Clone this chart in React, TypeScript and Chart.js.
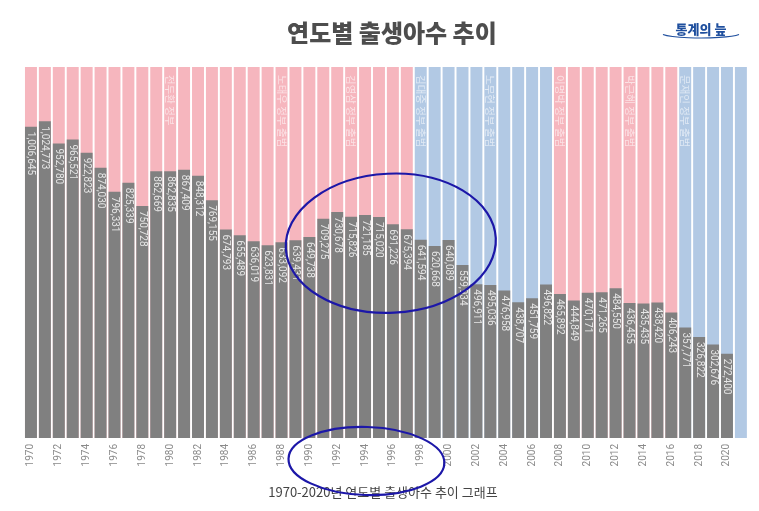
import React, { useEffect, useRef } from "react";
import { Chart, registerables } from "chart.js";

Chart.register(...registerables);

const years: string[] = [
  "1970","1971","1972","1973","1974","1975","1976","1977","1978","1979",
  "1980","1981","1982","1983","1984","1985","1986","1987","1988","1989",
  "1990","1991","1992","1993","1994","1995","1996","1997","1998","1999",
  "2000","2001","2002","2003","2004","2005","2006","2007","2008","2009",
  "2010","2011","2012","2013","2014","2015","2016","2017","2018","2019",
  "2020","2021",
];

const births: (number | null)[] = [
  1006645, 1024773, 952780, 965521, 922823, 874030, 796331, 825339, 750728, 862669,
  862835, 867409, 848312, 769155, 674793, 655489, 636019, 623831, 633092, 639431,
  649738, 709275, 730678, 715826, 721185, 715020, 691226, 675394, 641594, 620668,
  640089, 559934, 496911, 495036, 476958, 438707, 451759, 496822, 465892, 444849,
  470171, 471265, 484550, 436455, 435435, 438420, 406243, 357771, 326822, 302676,
  272400, null,
];

// government camp per year: "c" = conservative (pink), "p" = progressive (blue)
const camps: string[] = [
  "c","c","c","c","c","c","c","c","c","c",
  "c","c","c","c","c","c","c","c","c","c",
  "c","c","c","c","c","c","c","c","p","p",
  "p","p","p","p","p","p","p","p","c","c",
  "c","c","c","c","c","c","c","p","p","p",
  "p","p",
];

const eraYears: string[] = ["1980", "1988", "1993", "1998", "2003", "2008", "2013", "2017"];
const eraLabels: string[] = [
  "전두환 정부",
  "노태우 정부 출범",
  "김영삼 정부 출범",
  "김대중 정부 출범",
  "노무현 정부 출범",
  "이명박 정부 출범",
  "박근혜 정부 출범",
  "문재인 정부 출범",
];

const Y_MAX = 1200000;
const TITLE = "연도별 출생아수 추이";
const CAPTION = "1970-2020년 연도별 출생아수 추이 그래프";

const PINK = "#f6b6be";
const BLUE = "#b2c9e4";
const GREY = "#808080";
const INK = "#1c17a8";

const fmt = (v: number) => v.toLocaleString("en-US");

const overlayPlugin = {
  id: "overlay",
  afterDatasetsDraw(chart: any) {
    const ctx = chart.ctx;
    const x = chart.scales.x;
    const area = chart.chartArea;

    // value labels inside bars (rotated, reading top to bottom)
    const meta = chart.getDatasetMeta(0);
    ctx.save();
    ctx.fillStyle = "#e6e6e6";
    ctx.font = "10px Roboto, sans-serif";
    ctx.textBaseline = "middle";
    ctx.textAlign = "left";
    meta.data.forEach((bar: any, i: number) => {
      const v = births[i];
      if (v == null) return;
      ctx.save();
      ctx.translate(bar.x, bar.y + 5);
      ctx.rotate(Math.PI / 2);
      ctx.fillText(fmt(v), 0, 0);
      ctx.restore();
    });
    ctx.restore();

    // government labels
    ctx.save();
    ctx.fillStyle = "rgba(255,255,255,0.6)";
    ctx.font = "10.5px 'Noto Sans CJK KR', sans-serif";
    ctx.textBaseline = "middle";
    ctx.textAlign = "left";
    eraYears.forEach((yr, k) => {
      const px = x.getPixelForValue(years.indexOf(yr));
      ctx.save();
      ctx.translate(px, area.top + 8);
      ctx.rotate(Math.PI / 2);
      ctx.fillText(eraLabels[k], 0, 0);
      ctx.restore();
    });
    ctx.restore();
  },
  afterDraw(chart: any) {
    const ctx = chart.ctx;
    const x = chart.scales.x;
    const y = chart.scales.y;
    const area = chart.chartArea;

    // title
    ctx.save();
    ctx.fillStyle = "#4d4d4d";
    ctx.font = "900 24px 'Noto Sans CJK KR', sans-serif";
    ctx.textAlign = "center";
    ctx.textBaseline = "middle";
    ctx.fillText(TITLE, (area.left + area.right) / 2 + 6, 33);
    ctx.restore();

    // logo
    ctx.save();
    ctx.fillStyle = "#1f4f9e";
    ctx.font = "900 13px 'Noto Sans CJK KR', sans-serif";
    ctx.textAlign = "center";
    ctx.textBaseline = "middle";
    ctx.fillText("통계의 늪", 701, 29);
    ctx.strokeStyle = "#1f4f9e";
    ctx.lineWidth = 1.2;
    ctx.beginPath();
    ctx.ellipse(701, 33, 40, 5, 0, 0.1 * Math.PI, 0.9 * Math.PI);
    ctx.stroke();
    ctx.restore();

    // caption
    ctx.save();
    ctx.fillStyle = "#444";
    ctx.font = "13px 'Noto Sans CJK KR', sans-serif";
    ctx.textAlign = "center";
    ctx.textBaseline = "middle";
    ctx.fillText(CAPTION, (area.left + area.right) / 2 - 3, 492);
    ctx.restore();

    // hand-drawn annotation circles
    ctx.save();
    ctx.strokeStyle = INK;
    ctx.lineWidth = 2.2;
    const x1 = x.getPixelForValue(18.3);
    const x2 = x.getPixelForValue(33.4);
    const yTop = y.getPixelForValue(855000);
    const yBot = y.getPixelForValue(405000);
    ctx.beginPath();
    ctx.ellipse((x1 + x2) / 2, (yTop + yBot) / 2, (x2 - x1) / 2, (yBot - yTop) / 2, -0.05, 0, Math.PI * 2);
    ctx.stroke();
    const x3 = x.getPixelForValue(18.5);
    const x4 = x.getPixelForValue(29.7);
    ctx.beginPath();
    ctx.ellipse((x3 + x4) / 2, area.bottom + 23, (x4 - x3) / 2, 34, 0.03, 0, Math.PI * 2);
    ctx.stroke();
    ctx.restore();
  },
};

export default function App() {
  const ref = useRef<HTMLCanvasElement | null>(null);
  useEffect(() => {
    if (!ref.current) return;
    const chart = new Chart(ref.current, {
      type: "bar",
      data: {
        labels: years,
        datasets: [
          {
            data: births as any,
            backgroundColor: GREY,
            grouped: false,
            order: 1,
            barPercentage: 0.86,
            categoryPercentage: 1,
          },
          {
            data: years.map(() => Y_MAX),
            backgroundColor: camps.map((c) => (c === "c" ? PINK : BLUE)),
            grouped: false,
            order: 2,
            barPercentage: 0.86,
            categoryPercentage: 1,
          },
        ],
      },
      options: {
        responsive: false,
        animation: false,
        layout: { padding: { left: 24, right: 11, top: 67, bottom: 0 } },
        plugins: {
          legend: { display: false },
          tooltip: { enabled: false },
          title: { display: false },
        },
        scales: {
          x: {
            grid: { display: false, drawTicks: false },
            border: { display: false },
            ticks: {
              autoSkip: false,
              maxRotation: 90,
              minRotation: 90,
              padding: 6,
              color: "#8a8a8a",
              font: { family: "Roboto, sans-serif", size: 10 },
              callback: (_v: any, i: number) => {
                const yr = parseInt(years[i], 10);
                return yr % 2 === 0 && yr <= 2020 ? years[i] : "";
              },
            },
            afterFit: (scale: any) => {
              scale.height = 73;
            },
          },
          y: {
            display: false,
            min: 0,
            max: Y_MAX,
          },
        },
      },
      plugins: [overlayPlugin],
    });
    return () => chart.destroy();
  }, []);
  return (
    <div style={{ position: "fixed", left: 0, top: 0, width: 759, height: 511, background: "#fff" }}>
      <canvas ref={ref} width={759} height={511} style={{ width: 759, height: 511 }} />
    </div>
  );
}
